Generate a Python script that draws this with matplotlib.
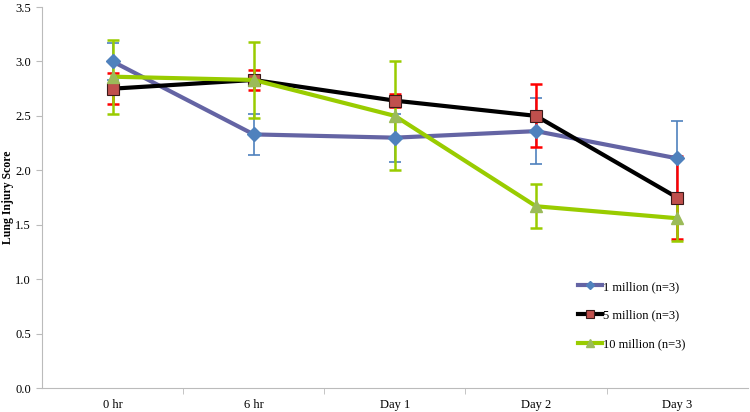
import matplotlib.pyplot as plt
import numpy as np

# time points and lung injury scores
timepoints = ['0 hr', '6 hr', 'Day 1', 'Day 2', 'Day 3']

one_million = [3.00, 2.33, 2.30, 2.36, 2.11]
one_million_err = [0.17, 0.19, 0.22, 0.30, 0.34]

five_million = [2.75, 2.83, 2.64, 2.50, 1.75]
five_million_err = [0.14, 0.09, 0.06, 0.29, 0.38]

ten_million = [2.86, 2.83, 2.50, 1.67, 1.56]
ten_million_err = [0.34, 0.35, 0.50, 0.20, 0.21]

labels = ['1 million (n=3)', '5 million (n=3)', '10 million (n=3)']

plt.rcParams['font.family'] = ['Liberation Serif', 'DejaVu Serif']

fig = plt.figure(figsize=(7.5, 4.12), dpi=100)
ax = fig.add_axes([0.056, 0.058, 0.941, 0.925])

x = np.arange(len(timepoints))

# error bars first, lines over them
ax.errorbar(x, one_million, yerr=one_million_err, fmt='none', ecolor='#4F81BD',
            elinewidth=1.2, capsize=4, capthick=1.2, zorder=2)
ax.errorbar(x, five_million, yerr=five_million_err, fmt='none', ecolor='#FF0000',
            elinewidth=1.8, capsize=4, capthick=1.8, zorder=2)
ax.errorbar(x, ten_million, yerr=ten_million_err, fmt='none', ecolor='#99CC00',
            elinewidth=1.8, capsize=4, capthick=1.8, zorder=2)

ax.plot(x, one_million, color='#6464A4', lw=3, marker='D', ms=7,
        mfc='#4F81BD', mec='#4F81BD', label=labels[0], zorder=3)
ax.plot(x, five_million, color='black', lw=3, marker='s', ms=9,
        mfc='#C0504D', mec='#3a1a1a', mew=0.8, label=labels[1], zorder=4)
ax.plot(x, ten_million, color='#99CC00', lw=3, marker='^', ms=9,
        mfc='#9BBB59', mec='#9BBB59', label=labels[2], zorder=5)

ax.set_xlim(-0.5, len(timepoints) - 0.5)
ax.set_ylim(0, 3.5)
ax.set_yticks(np.arange(0, 3.51, 0.5))
ax.set_yticklabels([f'{v:.1f}' for v in np.arange(0, 3.51, 0.5)], fontsize=9)
ax.set_xticks(x)
ax.set_xticklabels(timepoints, fontsize=9)
ax.set_xticks(np.arange(0.5, len(timepoints) - 0.5, 1), minor=True)
ax.tick_params(axis='x', which='major', length=0, pad=8)
ax.tick_params(axis='x', which='minor', length=4, color='#bbbbbb')
ax.tick_params(axis='y', length=4, color='#bbbbbb', pad=4)

ax.set_ylabel('Lung Injury Score', fontsize=8.5, fontweight='bold')
ax.yaxis.set_label_coords(-0.040, 0.5)

for s in ['top', 'right']:
    ax.spines[s].set_visible(False)
for s in ['left', 'bottom']:
    ax.spines[s].set_color('#bbbbbb')

ax.legend(loc='center left', bbox_to_anchor=(0.753, 0.19), frameon=False,
          fontsize=9, handlelength=1.9, handletextpad=0.1, labelspacing=1.35,
          borderaxespad=0, markerscale=0.6)

fig.savefig('out.png', dpi=100)
